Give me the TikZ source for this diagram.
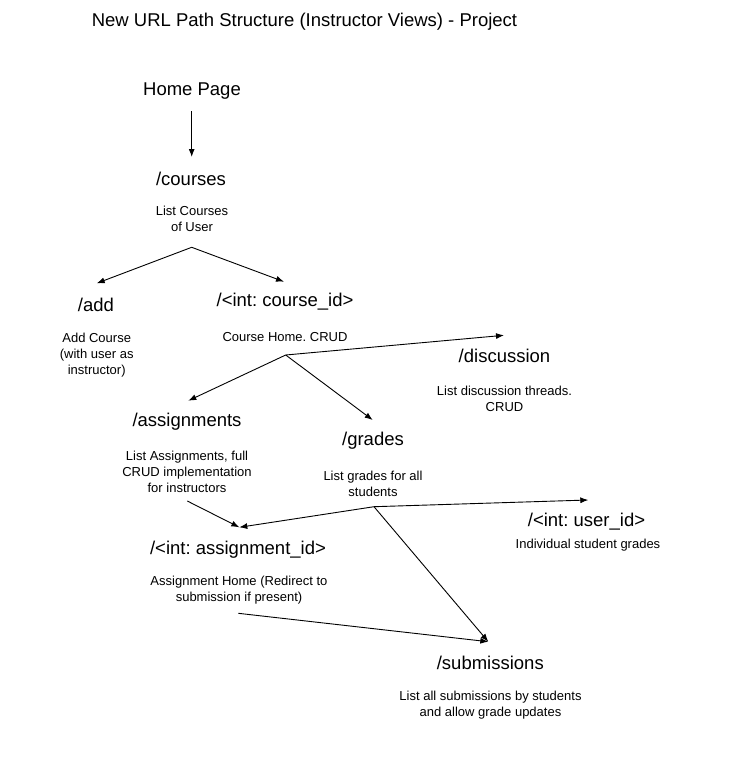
\documentclass[tikz,border=0pt]{standalone}
\usepackage{fontspec}
\setmainfont{Liberation Sans}
\usetikzlibrary{arrows.meta}
\frenchspacing

\begin{document}
\begin{tikzpicture}[x=1pt, y=-1pt,
    urlnode/.style={inner sep=0pt, font=\fontsize{18.5}{22}\selectfont},
    descnode/.style={inner sep=0pt, align=center, font=\fontsize{13}{16}\selectfont},
    link/.style={-{Latex[length=8pt, width=6pt]}, line width=0.9pt, black}
]
\useasboundingbox (0,0) rectangle (735,763);

\node[urlnode] (title) at (304.5,22) {New URL Path Structure (Instructor Views) - Project};

\node[urlnode] (home) at (192,91) {Home Page};
\node[urlnode] (courses) at (191,179) {/courses};
\node[descnode] (coursesdesc) at (192,219) {List Courses\\of User};

\node[urlnode] (add) at (96,305) {/add};
\node[descnode] (adddesc) at (96.7,355) {Add Course\\(with user as\\instructor)};
\node[urlnode] (course) at (285,302) {/<int: course\_id>};
\node[descnode] (coursedesc) at (285,337) {Course Home. CRUD};

\node[urlnode] (discussion) at (504.5,356) {/discussion};
\node[descnode] (discussiondesc) at (504.5,399) {List discussion threads.\\CRUD};
\node[urlnode] (assignments) at (187,421.7) {/assignments};
\node[descnode] (assignmentsdesc) at (187,472) {List Assignments, full\\CRUD implementation\\for instructors};
\node[urlnode] (grades) at (373,440.7) {/grades};
\node[descnode] (gradesdesc) at (373,483.5) {List grades for all\\students};

\node[urlnode] (assignment) at (238,549.3) {/<int: assignment\_id>};
\node[descnode] (assignmentdesc) at (239,590.5) {Assignment Home (Redirect to\\submission if present)};
\node[urlnode] (userid) at (586.5,521.7) {/<int: user\_id>};
\node[descnode] (useriddesc) at (588,545) {Individual student grades};

\node[urlnode] (submissions) at (490.3,662.7) {/submissions};
\node[descnode] (submissionsdesc) at (490.5,705.5) {List all submissions by students\\and allow grade updates};

\coordinate (homeout) at (191.7,111);
\coordinate (coursesin) at (191.7,157);
\coordinate (coursesfork) at (191.7,247.3);
\coordinate (addin) at (96.7,283.3);
\coordinate (coursein) at (284,281.7);
\coordinate (coursefork) at (285.7,355);
\coordinate (discussionin) at (504,335.3);
\coordinate (assignmentsin) at (188.3,400.7);
\coordinate (gradesin) at (372.7,420);
\coordinate (assignmentsout) at (187.3,501);
\coordinate (gradesfork) at (374,506.7);
\coordinate (assignmentin) at (239.3,527.3);
\coordinate (useridin) at (588.3,500);
\coordinate (assignmentout) at (238.3,613.3);
\coordinate (submissionsin) at (488.3,641.7);

\draw[link] (homeout) -- (coursesin);
\draw[link] (coursesfork) -- (addin);
\draw[link] (coursesfork) -- (coursein);
\draw[link] (coursefork) -- (discussionin);
\draw[link] (coursefork) -- (assignmentsin);
\draw[link] (coursefork) -- (gradesin);
\draw[link] (assignmentsout) -- (assignmentin);
\draw[link] (gradesfork) -- (assignmentin);
\draw[link] (gradesfork) -- (useridin);
\draw[link] (gradesfork) -- (submissionsin);
\draw[link] (assignmentout) -- (submissionsin);
\end{tikzpicture}
\end{document}
